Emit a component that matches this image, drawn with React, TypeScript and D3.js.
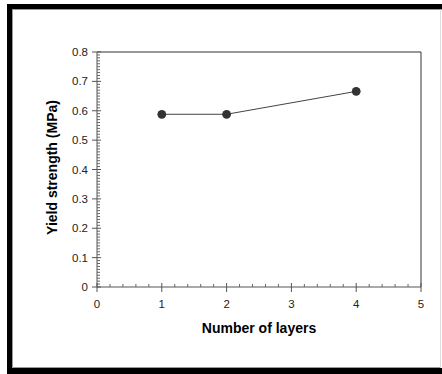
import React from "react";
import * as d3 from "d3";

// data
const layers = [1, 2, 4];
const yieldStrength = [0.588, 0.588, 0.666];
const xTickLabels = ["0", "1", "2", "3", "4", "5"];
const yTickLabels = ["0", "0.1", "0.2", "0.3", "0.4", "0.5", "0.6", "0.7", "0.8"];

const width = 442;
const height = 374;
const plot = { left: 97, right: 421, top: 52, bottom: 287 };
const font = "'Liberation Sans', Arial, sans-serif";

const App = () => {
  const x = d3.scaleLinear().domain([0, 5]).range([plot.left, plot.right]);
  const y = d3.scaleLinear().domain([0, 0.8]).range([plot.bottom, plot.top]);

  const line = d3
    .line<number>()
    .x((d, i) => x(layers[i]))
    .y((d) => y(d));

  // minor ticks
  const xMinor = d3.range(0, 5.001, 0.2).filter((v) => Math.abs(v - Math.round(v)) > 1e-6);
  const yMinor = d3.range(0, 0.8001, 0.01).filter((v) => Math.abs(v * 10 - Math.round(v * 10)) > 1e-6);

  return (
    <svg
      width={width}
      height={height}
      style={{ position: "absolute", left: 0, top: 0, background: "#fff" }}
    >
      {/* outer frame */}
      <rect x={0} y={0} width={width} height={height} fill="#fff" />
      <rect x={7} y={4} width={440} height={5.5} fill="#000" />
      <rect x={7} y={4} width={5} height={370} fill="#000" />
      <rect x={7} y={368} width={440} height={6} fill="#000" />
      <line x1={12.5} y1={9.5} x2={440.5} y2={9.5} stroke="#999" />
      <line x1={12.5} y1={9.5} x2={12.5} y2={367.5} stroke="#999" />
      <line x1={12.5} y1={367.5} x2={440.5} y2={367.5} stroke="#999" />
      <line x1={440.5} y1={9.5} x2={440.5} y2={367.5} stroke="#ddd" />

      {/* plot frame top/right */}
      <line x1={plot.left} y1={plot.top} x2={plot.right} y2={plot.top} stroke="#333" />
      <line x1={plot.right} y1={plot.top} x2={plot.right} y2={plot.bottom} stroke="#333" />

      {/* y axis */}
      <line x1={plot.left} y1={plot.top} x2={plot.left} y2={plot.bottom} stroke="#555" />
      {yMinor.map((v) => (
        <line key={"ym" + v} x1={plot.left} x2={plot.left + 3} y1={y(v)} y2={y(v)} stroke="#666" />
      ))}
      {yTickLabels.map((t) => (
        <g key={"y" + t}>
          <line x1={plot.left - 5} x2={plot.left + 4} y1={y(+t)} y2={y(+t)} stroke="#555" />
          <text
            x={plot.left - 9}
            y={y(+t)}
            dy="0.35em"
            textAnchor="end"
            fontFamily={font}
            fontSize={11.5}
            fill="#222"
          >
            {t}
          </text>
        </g>
      ))}

      {/* x axis */}
      <line x1={plot.left} y1={plot.bottom} x2={plot.right} y2={plot.bottom} stroke="#555" />
      {xMinor.map((v) => (
        <line key={"xm" + v} x1={x(v)} x2={x(v)} y1={plot.bottom} y2={plot.bottom - 3} stroke="#666" />
      ))}
      {xTickLabels.map((t) => (
        <g key={"x" + t}>
          <line x1={x(+t)} x2={x(+t)} y1={plot.bottom - 4} y2={plot.bottom + 5} stroke="#555" />
          <text
            x={x(+t)}
            y={308}
            textAnchor="middle"
            fontFamily={font}
            fontSize={11.5}
            fill="#222"
          >
            {t}
          </text>
        </g>
      ))}

      {/* axis titles */}
      <text
        x={(plot.left + plot.right) / 2}
        y={333}
        textAnchor="middle"
        fontFamily={font}
        fontSize={14}
        fontWeight="bold"
        fill="#000"
      >
        Number of layers
      </text>
      <text
        transform={`translate(56.5,${(plot.top + plot.bottom) / 2 - 2}) rotate(-90)`}
        textAnchor="middle"
        fontFamily={font}
        fontSize={14}
        fontWeight="bold"
        fill="#000"
      >
        Yield strength (MPa)
      </text>

      {/* series */}
      <path d={line(yieldStrength) || ""} fill="none" stroke="#444" strokeWidth={1} />
      {yieldStrength.map((v, i) => (
        <circle key={"p" + i} cx={x(layers[i])} cy={y(v)} r={4.4} fill="#333" />
      ))}
    </svg>
  );
};

export default App;
